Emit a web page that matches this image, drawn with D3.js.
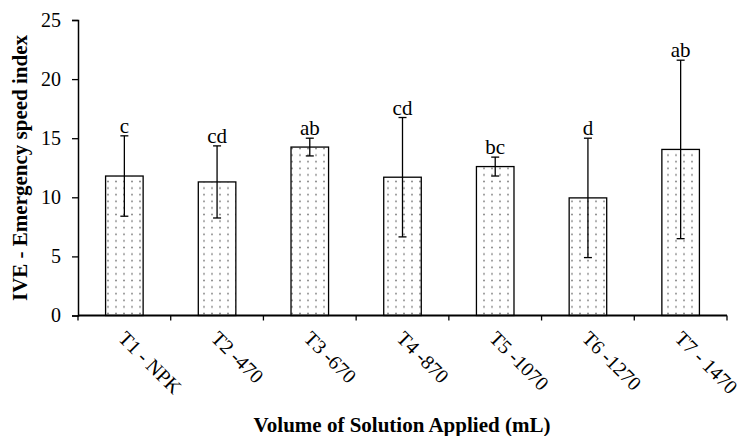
<!DOCTYPE html>
<html>
<head>
<meta charset="utf-8">
<script src="https://cdn.jsdelivr.net/npm/d3@7"></script>
<style>
  body { margin: 0; background: #fff; }
  text { font-family: "Liberation Serif", "Times New Roman", serif; fill: #000; }
</style>
</head>
<body>
<div id="chart"></div>
<script>
// treatments, means, error bars and letter groups
var categories = ['T1 - NPK', 'T2 -470', 'T3 -670', 'T4 -870', 'T5 -1070', 'T6 -1270', 'T7 - 1470'];
var means      = [11.8, 11.3, 14.25, 11.7, 12.6, 9.95, 14.05];
var errors     = [3.4, 3.05, 0.75, 5.05, 0.8, 5.05, 7.55];
var letters    = ['c', 'cd', 'ab', 'cd', 'bc', 'd', 'ab'];
var yTicks     = [0, 5, 10, 15, 20, 25];

var width = 744, height = 436,
    margin = {top: 20, right: 17, bottom: 121, left: 78};

var svg = d3.select('#chart')
    .append('svg')
    .attr('width', width)
    .attr('height', height);

// dotted fill of the bars
var pat = svg.append('defs')
    .append('pattern')
    .attr('id', 'dots')
    .attr('patternUnits', 'userSpaceOnUse')
    .attr('width', 8)
    .attr('height', 6.6);
pat.append('rect').attr('width', 8).attr('height', 6.6).attr('fill', '#fff');
pat.append('circle').attr('cx', 4).attr('cy', 3.3).attr('r', 1).attr('fill', '#888');

var x = d3.scaleBand()
    .domain(categories)
    .range([margin.left, width - margin.right])
    .paddingInner(0.595)
    .paddingOuter(0.2975);

var y = d3.scaleLinear()
    .domain([0, 25])
    .range([height - margin.bottom + 0.5, margin.top]);

var data = categories.map(function (c, i) {
    return {cat: c, mean: means[i], err: errors[i], letter: letters[i]};
});

// bars
svg.selectAll('rect.bar')
    .data(data)
    .enter()
    .append('rect')
    .attr('class', 'bar')
    .attr('x', function (d) { return x(d.cat); })
    .attr('y', function (d) { return y(d.mean); })
    .attr('width', x.bandwidth())
    .attr('height', function (d) { return y(0) - y(d.mean); })
    .attr('fill', 'url(#dots)')
    .attr('stroke', '#000')
    .attr('stroke-width', 1.3);

// error bars
var eb = svg.selectAll('g.err')
    .data(data)
    .enter()
    .append('g')
    .attr('class', 'err')
    .attr('transform', function (d) { return 'translate(' + (x(d.cat) + x.bandwidth() / 2) + ',0)'; });
eb.append('line')
    .attr('y1', function (d) { return y(d.mean + d.err); })
    .attr('y2', function (d) { return y(d.mean - d.err); })
    .attr('stroke', '#000').attr('stroke-width', 1.3);
eb.append('line')
    .attr('x1', -4).attr('x2', 4)
    .attr('y1', function (d) { return y(d.mean + d.err); })
    .attr('y2', function (d) { return y(d.mean + d.err); })
    .attr('stroke', '#000').attr('stroke-width', 1.3);
eb.append('line')
    .attr('x1', -4).attr('x2', 4)
    .attr('y1', function (d) { return y(d.mean - d.err); })
    .attr('y2', function (d) { return y(d.mean - d.err); })
    .attr('stroke', '#000').attr('stroke-width', 1.3);

// letters above the bars
eb.append('text')
    .attr('y', function (d) { return y(d.mean + d.err) - 3; })
    .attr('text-anchor', 'middle')
    .style('font-size', '21px')
    .text(function (d) { return d.letter; });

// y axis
var yAxis = svg.append('g')
    .attr('transform', 'translate(' + margin.left + ',0)')
    .call(d3.axisLeft(y).tickValues(yTicks).tickSize(6).tickPadding(11));
yAxis.selectAll('text').style('font-size', '20px').attr('font-family', null);
yAxis.selectAll('.tick line').attr('stroke-width', 1.3);
yAxis.select('.domain').attr('stroke-width', 1.5);

// x axis, ticks sit on band boundaries
var bounds = d3.range(categories.length + 1).map(function (i) {
    return margin.left + i * (width - margin.right - margin.left) / categories.length;
});
var xAxisG = svg.append('g');
xAxisG.append('line')
    .attr('x1', margin.left).attr('x2', width - margin.right)
    .attr('y1', y(0)).attr('y2', y(0))
    .attr('stroke', '#000').attr('stroke-width', 2);
xAxisG.selectAll('line.tick')
    .data(bounds)
    .enter()
    .append('line')
    .attr('class', 'tick')
    .attr('x1', function (d) { return d; }).attr('x2', function (d) { return d; })
    .attr('y1', y(0)).attr('y2', y(0) + 5)
    .attr('stroke', '#000').attr('stroke-width', 1.3);
xAxisG.selectAll('text')
    .data(categories)
    .enter()
    .append('text')
    .attr('transform', function (d) {
        return 'translate(' + (x(d) + x.bandwidth() / 2 - 7) + ',' + (y(0) + 24) + ') rotate(45)';
    })
    .style('font-size', '20px')
    .text(function (d) { return d; });

// axis titles
svg.append('text')
    .attr('x', 402)
    .attr('y', 432)
    .attr('text-anchor', 'middle')
    .style('font-size', '21px')
    .style('font-weight', 'bold')
    .text('Volume of Solution Applied (mL)');

svg.append('text')
    .attr('transform', 'translate(27,' + 168 + ') rotate(-90)')
    .attr('text-anchor', 'middle')
    .style('font-size', '21px')
    .style('font-weight', 'bold')
    .text('IVE - Emergency speed index');
</script>
</body>
</html>
